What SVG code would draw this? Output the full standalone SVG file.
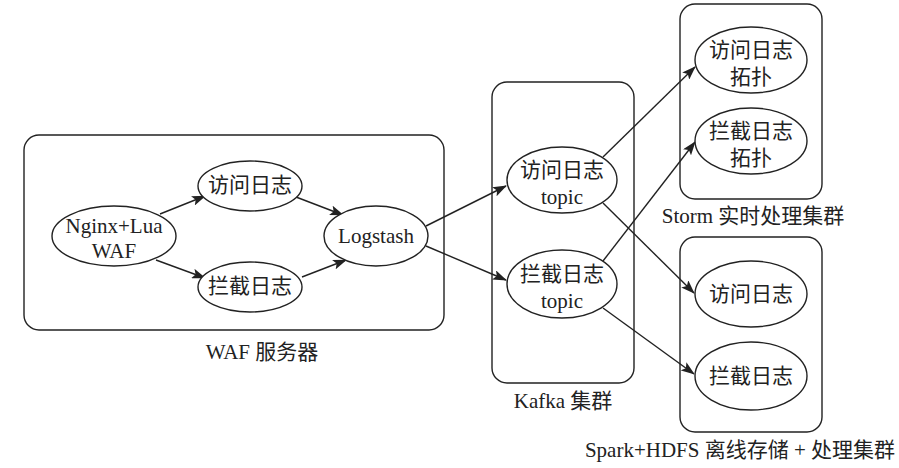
<svg xmlns="http://www.w3.org/2000/svg" width="899" height="468" viewBox="0 0 899 468">
<defs>
<style>
.box{fill:none;stroke:#222;stroke-width:1.4}
.nd{fill:#fff;stroke:#222;stroke-width:1.4}
.t{font-family:"Liberation Serif","Noto Sans CJK SC",serif;font-size:21px;fill:#222;text-anchor:middle;dominant-baseline:central}
.e{fill:none;stroke:#222;stroke-width:1.4;marker-end:url(#ah)}
</style>
<marker id="ah" viewBox="0 0 14 10" refX="13" refY="5" markerWidth="14" markerHeight="10" markerUnits="userSpaceOnUse" orient="auto">
<path d="M0,0 L14,5 L0,10 L3,5 Z" fill="#222"/>
</marker>
</defs>
<rect width="899" height="468" fill="#fff"/>
<g id="cluster-waf">
<rect class="box" x="24" y="135" width="420" height="195" rx="15"/>
<text class="t" x="262" y="352">WAF 服务器</text>
</g>
<g id="cluster-kafka">
<rect class="box" x="492" y="82" width="142" height="301" rx="15"/>
<text class="t" x="563" y="401">Kafka 集群</text>
</g>
<g id="cluster-storm">
<rect class="box" x="680" y="4" width="142" height="195" rx="15"/>
<text class="t" x="753" y="216">Storm 实时处理集群</text>
</g>
<g id="cluster-spark">
<rect class="box" x="680" y="237" width="142" height="195" rx="15"/>
<text class="t" x="740" y="450">Spark+HDFS 离线存储 + 处理集群</text>
</g>
<g id="connectors">
<line class="e" x1="160" y1="214" x2="205" y2="196"/>
<line class="e" x1="156" y1="260" x2="205" y2="278"/>
<line class="e" x1="296" y1="197" x2="343" y2="215"/>
<line class="e" x1="302" y1="277" x2="346" y2="260"/>
<line class="e" x1="426" y1="226" x2="506" y2="186"/>
<line class="e" x1="426" y1="246" x2="506" y2="280"/>
<line class="e" x1="603" y1="157" x2="695" y2="67"/>
<line class="e" x1="603" y1="261" x2="695" y2="142"/>
<line class="e" x1="603" y1="203" x2="694" y2="293"/>
<line class="e" x1="603" y1="308" x2="694" y2="374"/>
</g>
<g id="n-nginx">
<ellipse class="nd" cx="114" cy="236" rx="62" ry="30"/>
<text class="t" x="114" y="226">Nginx+Lua</text>
<text class="t" x="114" y="251">WAF</text>
</g>
<g id="n-waf-access">
<ellipse class="nd" cx="250" cy="186" rx="52" ry="25"/>
<text class="t" x="250" y="185">访问日志</text>
</g>
<g id="n-waf-block">
<ellipse class="nd" cx="250" cy="287" rx="52" ry="25"/>
<text class="t" x="250" y="286">拦截日志</text>
</g>
<g id="n-logstash">
<ellipse class="nd" cx="376" cy="236" rx="52" ry="30"/>
<text class="t" x="376" y="236">Logstash</text>
</g>
<g id="n-topic-access">
<ellipse class="nd" cx="562" cy="180" rx="55" ry="33"/>
<text class="t" x="562" y="170">访问日志</text>
<text class="t" x="562" y="197">topic</text>
</g>
<g id="n-topic-block">
<ellipse class="nd" cx="562" cy="284" rx="55" ry="34"/>
<text class="t" x="562" y="274">拦截日志</text>
<text class="t" x="562" y="301">topic</text>
</g>
<g id="n-storm-access">
<ellipse class="nd" cx="751" cy="60" rx="56" ry="33"/>
<text class="t" x="751" y="50">访问日志</text>
<text class="t" x="751" y="77">拓扑</text>
</g>
<g id="n-storm-block">
<ellipse class="nd" cx="751" cy="141" rx="56" ry="33"/>
<text class="t" x="751" y="131">拦截日志</text>
<text class="t" x="751" y="158">拓扑</text>
</g>
<g id="n-spark-access">
<ellipse class="nd" cx="751" cy="294" rx="56" ry="33"/>
<text class="t" x="751" y="294">访问日志</text>
</g>
<g id="n-spark-block">
<ellipse class="nd" cx="751" cy="376" rx="56" ry="34"/>
<text class="t" x="751" y="376">拦截日志</text>
</g>
</svg>
